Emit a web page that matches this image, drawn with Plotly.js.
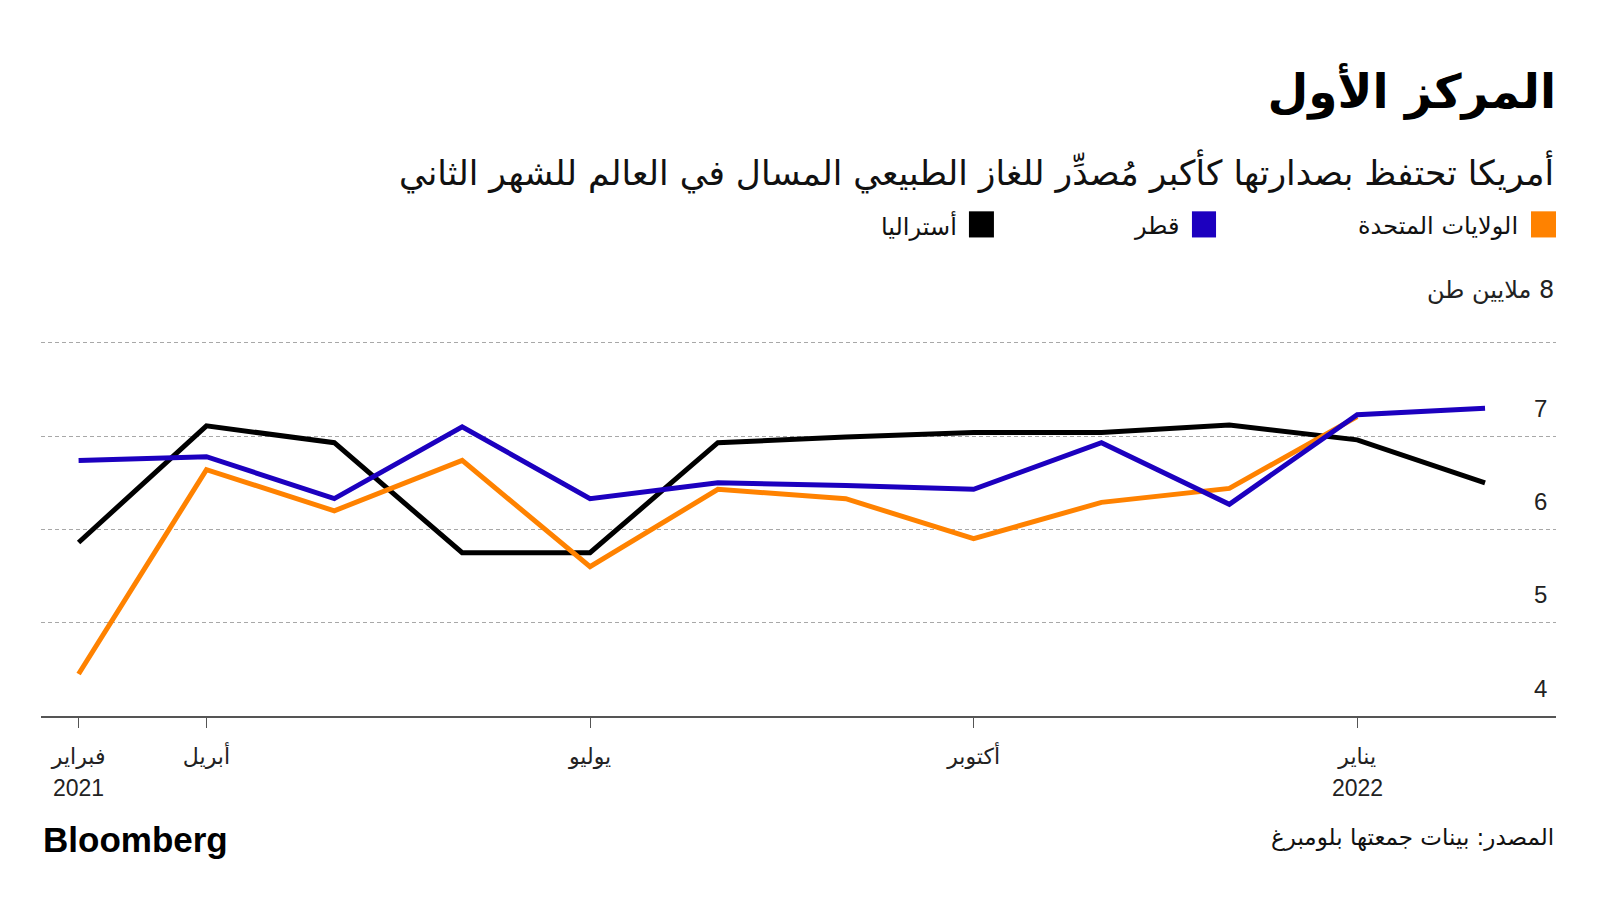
<!DOCTYPE html>
<html>
<head>
<meta charset="utf-8">
<script src="https://cdn.plot.ly/plotly-3.0.1.min.js"></script>
<style>
  html, body { margin: 0; padding: 0; background: #ffffff; }
  #chart { width: 1600px; height: 900px; }
</style>
</head>
<body>
<div id="chart"></div>
<script>
// ---- Data ----
const months = ['2021-02','2021-04','2021-05','2021-06','2021-07','2021-08','2021-09','2021-10','2021-11','2021-12','2022-01','2022-02'];
const usValues        = [4.45, 6.64, 6.20, 6.74, 5.60, 6.43, 6.33, 5.90, 6.29, 6.44, 7.21, null];
const qatarValues     = [6.74, 6.78, 6.33, 7.10, 6.33, 6.50, 6.47, 6.43, 6.93, 6.27, 7.23, 7.30];
const australiaValues = [5.86, 7.11, 6.93, 5.75, 5.75, 6.93, 6.99, 7.04, 7.04, 7.12, 6.96, 6.50];

const seriesNames  = ['الولايات المتحدة', 'قطر', 'أستراليا'];
const seriesColors = ['#ff8200', '#1c00bf', '#000000'];

const xTickVals  = ['2021-02', '2021-04', '2021-07', '2021-10', '2022-01'];
const xTickText  = ['فبراير', 'أبريل', 'يوليو', 'أكتوبر', 'يناير'];
const yearLabels = [['2021-02', '2021'], ['2022-01', '2022']];
const yTickVals  = [4, 5, 6, 7, 8];
const yTickText  = ['4', '5', '6', '7', '8'];
const unitLabel  = '\u200F8 ملايين طن';

const titleText    = 'المركز الأول';
const subtitleText = 'أمريكا تحتفظ بصدارتها كأكبر مُصدِّر للغاز الطبيعي المسال في العالم للشهر الثاني';
const sourceText   = 'المصدر: بينات جمعتها بلومبرغ';
const brandText    = 'Bloomberg';

const AR = 'DejaVu Sans, sans-serif';
const LAT = 'Liberation Sans, Arial, sans-serif';

// ---- Traces (drawing order: Australia, US, Qatar on top) ----
const allValues = [usValues, qatarValues, australiaValues];
const order = [2, 0, 1];
const traces = order.map(i => ({
  type: 'scatter',
  mode: 'lines',
  x: months,
  y: allValues[i],
  name: seriesNames[i],
  line: { color: seriesColors[i], width: 5, shape: 'linear' },
  connectgaps: false,
  hoverinfo: 'skip',
  showlegend: false
}));

// ---- Annotations ----
const annotations = [];
// subtitle
annotations.push({
  xref: 'paper', yref: 'paper', x: 1, y: 1.452, xanchor: 'right', yanchor: 'middle',
  text: subtitleText, showarrow: false, align: 'right',
  font: { family: AR, size: 34.5, color: '#111' }
});
// y tick labels (right side, above gridlines)
yTickVals.forEach((v, k) => {
  if (v === 8) return;
  annotations.push({
    xref: 'paper', yref: 'y', x: 0.9955, y: v, yshift: 28, xanchor: 'right', yanchor: 'middle',
    text: yTickText[k], showarrow: false,
    font: { family: LAT, size: 24, color: '#222' }
  });
});
// unit label
annotations.push({
  xref: 'paper', yref: 'y', x: 1, y: 8, yshift: 53, xanchor: 'right', yanchor: 'middle',
  text: unitLabel, showarrow: false,
  font: { family: AR, size: 24, color: '#222' }
});
// year labels under ticks
yearLabels.forEach(([m, yr]) => {
  annotations.push({
    xref: 'x', yref: 'paper', x: m, y: -0.193, xanchor: 'center', yanchor: 'middle',
    text: yr, showarrow: false,
    font: { family: LAT, size: 23, color: '#222' }
  });
});
// legend texts
const legendTextX = [0.9762, 0.7525, 0.606];
const legendBoxX  = [[0.9835, 1.0], [0.7597, 0.7756], [0.6125, 0.629]];
seriesNames.forEach((n, i) => {
  annotations.push({
    xref: 'paper', yref: 'paper', x: legendTextX[i], y: 1.306, xanchor: 'right', yanchor: 'middle',
    text: n, showarrow: false,
    font: { family: AR, size: 24, color: '#111' }
  });
});
// source
annotations.push({
  xref: 'paper', yref: 'paper', x: 1, y: -0.3244, xanchor: 'right', yanchor: 'middle',
  text: sourceText, showarrow: false,
  font: { family: AR, size: 23, color: '#111' }
});
// brand
annotations.push({
  xref: 'paper', yref: 'paper', x: 0, y: -0.3298, xanchor: 'left', yanchor: 'middle',
  text: '<b>' + brandText + '</b>', showarrow: false,
  font: { family: LAT, size: 35, color: '#000' }
});

// legend squares
const shapes = seriesColors.map((c, i) => ({
  type: 'rect', xref: 'paper', yref: 'paper',
  x0: legendBoxX[i][0], x1: legendBoxX[i][1], y0: 1.2761, y1: 1.3458,
  fillcolor: c, line: { width: 0 }
}));

const layout = {
  width: 1600, height: 900,
  paper_bgcolor: '#ffffff', plot_bgcolor: '#ffffff',
  margin: { l: 41, r: 44, t: 341, b: 184 },
  showlegend: false,
  title: {
    text: titleText,
    xref: 'container', yref: 'container',
    x: 0.9725, xanchor: 'right', y: 0.898, yanchor: 'middle',
    font: { family: AR, size: 47, color: '#000', weight: 'bold' }
  },
  xaxis: {
    type: 'category',
    range: [-0.294, 11.555],
    tickvals: xTickVals, ticktext: xTickText,
    showgrid: false, zeroline: false,
    showline: true, linecolor: '#555', linewidth: 1.5,
    ticks: 'outside', ticklen: 10, tickwidth: 1, tickcolor: '#555',
    ticklabelstandoff: 10,
    tickfont: { family: AR, size: 22, color: '#222' },
    fixedrange: true
  },
  yaxis: {
    range: [4, 8.02],
    tickvals: yTickVals,
    showticklabels: false,
    showgrid: true, gridcolor: '#a8a8a8', gridwidth: 1, griddash: '4px,3px',
    zeroline: false, showline: false, ticks: '',
    fixedrange: true
  },
  annotations: annotations,
  shapes: shapes
};

Plotly.newPlot('chart', traces, layout, { displayModeBar: false, staticPlot: true });
</script>
</body>
</html>
